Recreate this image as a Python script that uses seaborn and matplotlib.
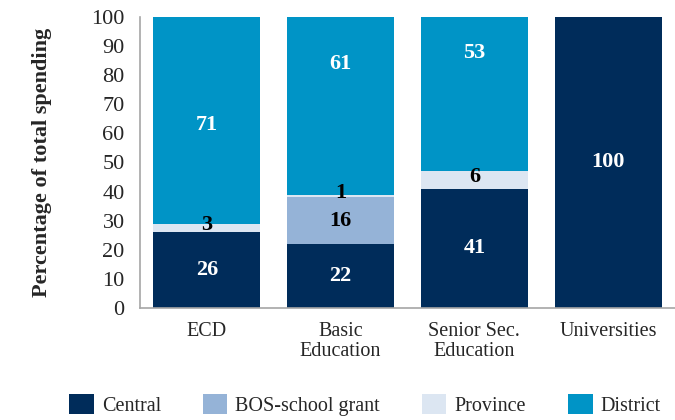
import numpy as np
import pandas as pd
import seaborn as sns
import matplotlib.pyplot as plt
from matplotlib.patches import Patch

categories = ['ECD', 'Basic\nEducation', 'Senior Sec.\nEducation', 'Universities']
central = [26, 22, 41, 100]
bos = [0, 16, 0, 0]
province = [3, 1, 6, 0]
district = [71, 61, 53, 0]

series = ['Central', 'BOS-school grant', 'Province', 'District']
colors = ['#002C5A', '#95B3D7', '#DCE6F2', '#0094C6']
label_colors = ['white', 'black', 'black', 'white']

sns.set_style('white')
plt.rcParams['font.family'] = ['Liberation Serif', 'DejaVu Serif']

df = pd.DataFrame({'cat': categories, 'Central': central, 'BOS-school grant': bos,
                   'Province': province, 'District': district})
cum = df[series].cumsum(axis=1)
base = cum - df[series]

fig = plt.figure(figsize=(6.75, 4.2), dpi=100)
ax = fig.add_axes([0.2074, 0.2667, 0.7926, 0.6928])

# layered cumulative bars, tallest first
for s, c in reversed(list(zip(series, colors))):
    sns.barplot(x=df['cat'], y=cum[s], color=c, width=0.8, saturation=1,
                order=categories, ax=ax, linewidth=0)

# segment labels
district_label_y = [63, 84, 87.5, 0]
for i in range(len(categories)):
    for j, s in enumerate(series):
        v = df[s][i]
        if v == 0:
            continue
        y = base[s][i] + v / 2
        if s == 'District':
            y = district_label_y[i]
        elif s == 'Province':
            y += 1
        ax.text(i, y, f'{v}', ha='center', va='center', fontsize=16,
                fontweight='bold', color=label_colors[j])

ax.set_xlim(-0.5, 3.5)
ax.set_ylim(0, 100)
ax.set_yticks(range(0, 101, 10))
ax.set_xlabel('')
ax.set_ylabel('Percentage of total spending', fontsize=16, fontweight='bold', labelpad=28)
ax.set_xticks(range(4))
ax.set_xticklabels(categories, fontsize=14.5, linespacing=1.1)
ax.set_xticks(np.arange(-0.5, 4, 1), minor=True)
ax.tick_params(axis='x', which='major', length=0, pad=10)
ax.tick_params(axis='x', which='minor', length=7, color='#A6A6A6', width=1, direction='out')
ax.tick_params(axis='y', length=9, color='#A6A6A6', width=1, direction='out', labelsize=16, pad=2)
for sp in ['top', 'right']:
    ax.spines[sp].set_visible(False)
for sp in ['left', 'bottom']:
    ax.spines[sp].set_color('#A6A6A6')
    ax.spines[sp].set_linewidth(1.2)

handles = [Patch(facecolor=c, edgecolor='none', label=s) for s, c in zip(series, colors)]
fig.legend(handles=handles, loc='lower left', bbox_to_anchor=(0.076, -0.033), ncol=4,
           frameon=False, fontsize=14.5, handlelength=1.2, handleheight=1.2,
           handletextpad=0.4, columnspacing=2.1)

fig.savefig('out.png', dpi=100)
